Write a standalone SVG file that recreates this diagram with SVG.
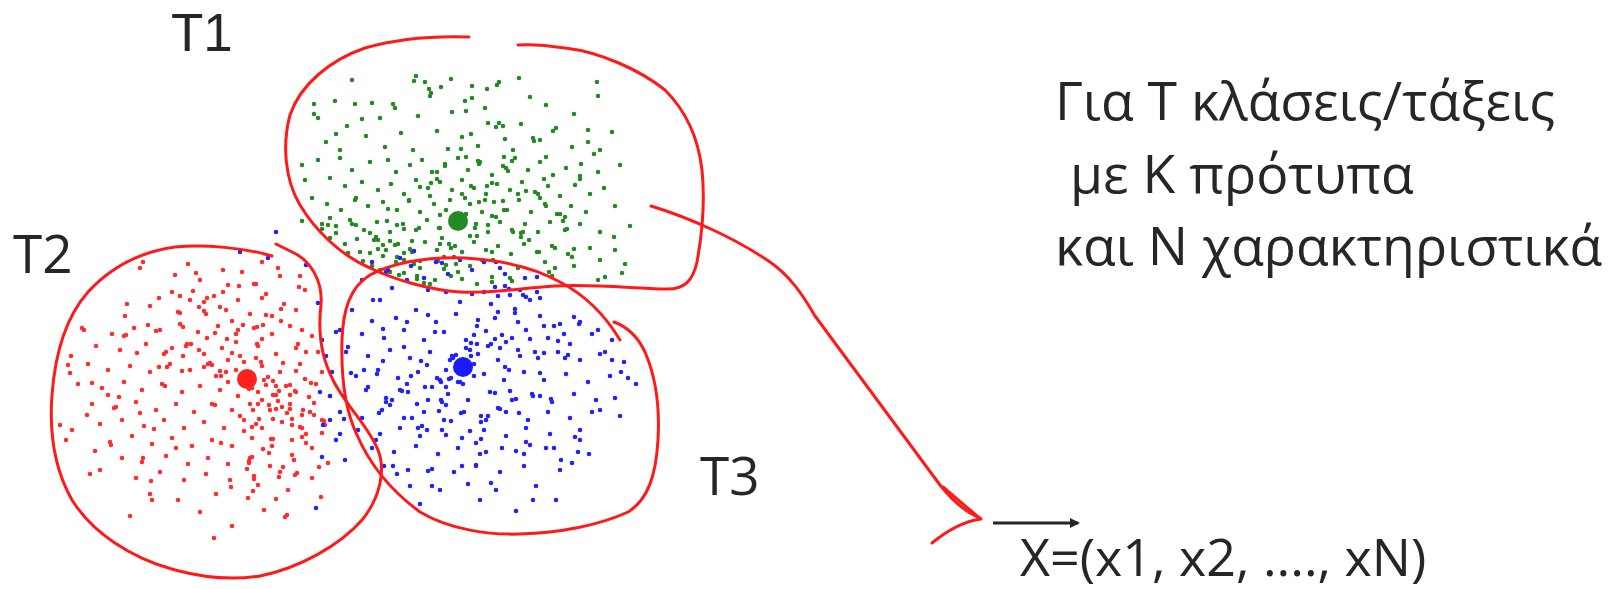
<svg xmlns="http://www.w3.org/2000/svg" width="1615" height="589" viewBox="0 0 1615 589">
<style>
.lbl{font-family:"Open Sans","Noto Sans","Liberation Sans",sans-serif;fill:#262626}
.t{font-size:53px}
.t1{font-family:"Liberation Sans","Open Sans",sans-serif}
.g{font-size:53.5px}
.outline{fill:none;stroke:#ff1a1a;stroke-width:3;stroke-linecap:round;stroke-linejoin:round}
.dots{fill:none;stroke-width:4.6;stroke-linecap:round}
</style>
<defs>
<marker id="ah" markerWidth="10" markerHeight="10" refX="8" refY="5" orient="auto" markerUnits="userSpaceOnUse" viewBox="0 0 10 10"><path d="M0,0 L10,5 L0,10 Z" fill="#262626"/></marker>
</defs>
<rect width="1615" height="589" fill="#ffffff"/>

<g id="cluster-T1">
<path class="dots" stroke="#258a25" d="M478,161h0M376,237h0M512,281h0M431,93h0M567,229h0M397,257h0M465,198h0M330,238h0M533,138h0M417,276h0M492,183h0M356,225h0M594,154h0M444,269h0M519,78h0M410,249h0M546,206h0M336,233h0M458,272h0M499,123h0M390,241h0M580,176h0M438,261h0M485,108h0M302,221h0M526,191h0M424,283h0M472,86h0M370,253h0M560,214h0M404,273h0M506,168h0M451,79h0M614,237h0M380,270h0M478,146h0M417,279h0M540,198h0M383,245h0M512,161h0M444,257h0M553,131h0M322,229h0M492,277h0M431,183h0M465,101h0M574,249h0M397,225h0M499,82h0M363,261h0M477,236h0M399,275h0M503,126h0M440,244h0M544,179h0M414,264h0M466,111h0M352,224h0M518,194h0M430,284h0M487,89h0M383,256h0M565,217h0M451,276h0M508,171h0M425,82h0M529,240h0M372,266h0M461,149h0M492,282h0M409,201h0M555,248h0M445,164h0M482,260h0M336,134h0M513,232h0M435,280h0M471,186h0M393,104h0M539,252h0M419,228h0M497,85h0M456,264h0M581,164h0M378,240h0M477,284h0M430,96h0M523,232h0M404,260h0M503,201h0M451,248h0M534,141h0M357,239h0M487,186h0M440,228h0M466,157h0M549,272h0M414,81h0M492,252h0M388,209h0M479,164h0M352,80h0M521,233h0M420,261h0M588,142h0M390,272h0M462,194h0M330,218h0M546,157h0M404,253h0M496,127h0M328,225h0M622,273h0M437,179h0M530,97h0M395,245h0M563,221h0M318,118h0M454,257h0M504,157h0M370,233h0M605,277h0M429,89h0M488,225h0M348,253h0M538,194h0M412,241h0M471,134h0M355,200h0M580,179h0M387,221h0M513,150h0M446,265h0M598,96h0M305,180h0M479,202h0M404,229h0M555,268h0M362,119h0M521,237h0M437,172h0M572,257h0M314,104h0M496,217h0M420,187h0M462,279h0M597,82h0M378,249h0M504,210h0M340,150h0
M416,76h0M441,87h0M335,101h0M355,104h0M372,103h0M395,108h0M472,98h0M546,105h0M574,114h0M314,114h0M380,118h0M418,116h0M452,112h0M488,123h0M521,124h0M556,128h0M588,130h0M612,132h0M347,126h0M366,136h0M401,133h0M437,131h0M462,137h0M505,139h0M540,140h0M572,147h0M600,150h0M326,142h0M385,147h0M413,150h0M448,149h0M302,165h0M318,160h0M340,158h0M352,170h0M370,162h0M388,160h0M396,172h0M410,165h0M422,160h0M432,172h0M445,166h0M458,158h0M468,170h0M480,162h0M492,175h0M503,166h0M515,158h0M528,170h0M540,162h0M553,175h0M566,168h0M598,172h0M620,165h0M330,178h0M345,186h0M362,182h0M378,190h0M391,184h0M404,194h0M416,180h0M428,188h0M440,182h0M452,190h0M462,180h0M474,188h0M486,194h0M497,184h0M510,190h0M522,182h0M535,192h0M548,186h0M560,196h0M575,185h0M590,194h0M604,188h0M312,198h0M327,204h0M341,210h0M356,198h0M368,206h0M383,202h0M397,210h0M409,200h0M420,212h0M434,204h0M446,210h0M470,204h0M482,212h0M494,202h0M507,210h0M519,200h0M531,212h0M545,204h0M557,214h0M571,206h0M586,212h0M615,206h0M322,224h0M336,226h0M350,220h0M364,230h0M377,222h0M390,232h0M403,224h0M416,230h0M427,220h0M439,228h0M476,224h0M488,232h0M500,222h0M512,230h0M525,224h0M538,232h0M550,222h0M565,230h0M580,224h0M600,232h0M630,226h0M345,244h0M360,252h0M374,240h0M386,250h0M398,244h0M412,252h0M425,242h0M437,250h0M449,244h0M462,252h0M474,242h0M486,250h0M498,246h0M511,254h0M524,244h0M537,252h0M552,246h0M568,254h0M590,248h0M615,250h0M396,262h0M420,268h0M470,266h0M493,260h0M518,268h0M545,262h0M574,266h0M600,260h0M625,264h0M510,278h0M552,276h0M598,280h0M450,200h0M466,214h0M442,238h0M470,236h0M455,246h0M430,196h0M485,200h0M440,215h0M475,228h0M492,216h0"/>
<circle cx="458" cy="221" r="10" fill="#258a25"/>
</g>

<g id="cluster-T2">
<path class="dots" stroke="#ff2d2d" d="M183,327h0M266,385h0M300,276h0M111,445h0M257,344h0M290,409h0M223,292h0M276,499h0M159,367h0M322,433h0M207,338h0M252,457h0M175,275h0M305,379h0M87,415h0M281,321h0M231,487h0M261,362h0M314,403h0M143,262h0M271,439h0M199,350h0M295,391h0M127,304h0M247,469h0M215,333h0M324,421h0M70,373h0M285,517h0M239,286h0M309,397h0M191,344h0M95,451h0M266,315h0M300,427h0M167,367h0M328,463h0M223,270h0M276,409h0M183,356h0M290,385h0M151,481h0M257,327h0M314,415h0M207,298h0M119,397h0M281,309h0M252,427h0M71,356h0M295,475h0M204,367h0M262,400h0M299,287h0M154,429h0M256,358h0M279,391h0M232,321h0M269,453h0M187,344h0M302,415h0M221,376h0M253,491h0M199,307h0M290,395h0M137,353h0M273,439h0M238,330h0M259,419h0M296,371h0M176,448h0M266,294h0M215,405h0M283,363h0M165,386h0M249,463h0M227,339h0M303,410h0M125,316h0M276,395h0M243,325h0M292,419h0M210,363h0M143,458h0M262,339h0M286,386h0M193,291h0M306,434h0M232,353h0M269,405h0M204,311h0M279,477h0M182,371h0M256,424h0M296,348h0M221,443h0M159,298h0M273,381h0M253,410h0M126,335h0M283,467h0M292,425h0M68,365h0M249,461h0M278,268h0M116,407h0M204,354h0M311,383h0M254,479h0M148,325h0M287,413h0M180,296h0M273,395h0M220,307h0M325,425h0M164,354h0M297,473h0M263,325h0M92,383h0M188,264h0M306,443h0M236,342h0M282,407h0M72,430h0M321,497h0M212,365h0M244,431h0M124,336h0M292,455h0M196,273h0M268,377h0M140,413h0M302,330h0M258,485h0M228,360h0M278,401h0M84,330h0M302,437h0M172,348h0M249,389h0M204,302h0M319,467h0M156,331h0M273,419h0M220,371h0M287,515h0M254,284h0M108,395h0M306,352h0M263,449h0M180,313h0M130,516h0M214,538h0M200,512h0M152,500h0M100,470h0M60,425h0
M140,268h0M262,262h0M242,272h0M200,280h0M228,285h0M256,284h0M280,276h0M305,290h0M172,292h0M190,300h0M214,296h0M238,300h0M262,298h0M284,304h0M150,306h0M178,312h0M206,314h0M226,310h0M250,314h0M272,316h0M296,310h0M82,328h0M112,334h0M134,328h0M160,330h0M180,324h0M198,332h0M218,326h0M236,334h0M254,328h0M272,334h0M290,326h0M312,336h0M96,346h0M120,350h0M146,344h0M166,352h0M186,346h0M204,354h0M222,348h0M240,356h0M258,346h0M276,354h0M298,344h0M318,352h0M88,364h0M108,370h0M130,366h0M150,372h0M170,364h0M190,370h0M208,364h0M226,372h0M262,366h0M280,372h0M300,364h0M322,372h0M78,384h0M102,388h0M124,382h0M142,390h0M162,384h0M182,392h0M200,386h0M220,390h0M238,396h0M258,392h0M276,386h0M296,392h0M316,384h0M330,396h0M92,404h0M114,408h0M136,402h0M156,410h0M176,404h0M194,412h0M212,404h0M232,410h0M250,404h0M270,410h0M290,404h0M310,412h0M100,424h0M122,420h0M144,426h0M164,420h0M184,428h0M204,422h0M224,428h0M244,420h0M262,428h0M282,422h0M302,428h0M322,420h0M66,440h0M110,442h0M132,436h0M152,444h0M172,438h0M192,446h0M212,440h0M232,446h0M252,438h0M272,446h0M292,440h0M312,448h0M122,458h0M142,462h0M166,456h0M188,464h0M208,458h0M228,464h0M250,458h0M270,466h0M294,460h0M90,474h0M136,478h0M160,472h0M184,480h0M206,474h0M230,480h0M254,476h0M280,472h0M312,478h0M150,494h0M178,500h0M216,494h0M248,498h0M288,490h0M264,510h0M232,526h0M236,370h0M252,388h0M228,382h0M244,362h0M264,380h0M216,376h0M240,416h0M258,404h0"/>
<circle cx="247" cy="379" r="10" fill="#ff2020"/>
</g>

<g id="cluster-T3">
<path class="dots" stroke="#2222ff" d="M407,280h0M491,483h0M568,355h0M344,419h0M477,326h0M526,442h0M442,263h0M505,367h0M386,402h0M605,352h0M428,471h0M470,350h0M400,390h0M537,292h0M323,425h0M512,338h0M449,379h0M484,292h0M589,454h0M372,321h0M498,408h0M421,361h0M533,500h0M362,280h0M463,384h0M435,332h0M575,437h0M318,303h0M519,413h0M456,355h0M554,448h0M414,251h0M330,396h0M491,344h0M540,373h0M393,466h0M598,330h0M442,402h0M505,286h0M407,384h0M526,297h0M379,413h0M477,344h0M561,460h0M428,315h0M351,373h0M500,268h0M470,431h0M336,332h0M533,396h0M427,430h0M486,331h0M540,396h0M383,361h0M476,465h0M510,295h0M451,378h0M495,339h0M412,418h0M574,317h0M441,400h0M471,356h0M422,426h0M525,278h0M368,387h0M500,348h0M456,370h0M481,439h0M554,326h0M402,391h0M491,304h0M437,378h0M515,313h0M392,400h0M466,348h0M446,435h0M544,326h0M364,370h0M505,274h0M461,413h0M530,339h0M432,387h0M373,300h0M486,452h0M520,356h0M417,404h0M564,334h0M451,421h0M495,287h0M427,365h0M510,391h0M407,322h0M476,443h0M535,352h0M441,382h0M388,270h0M500,409h0M471,343h0M377,374h0M515,309h0M509,289h0M390,405h0M621,372h0M432,469h0M474,376h0M404,347h0M551,399h0M268,258h0M516,451h0M453,358h0M488,416h0M580,322h0M376,440h0M502,335h0M425,387h0M537,277h0M316,508h0M467,364h0M439,411h0M579,324h0M322,457h0M523,295h0M460,382h0M558,341h0M418,428h0M240,252h0M495,393h0M544,353h0M397,474h0M615,398h0M446,405h0M509,370h0M411,266h0M530,445h0M383,329h0M481,422h0M565,358h0M432,486h0M306,265h0M516,399h0M474,335h0M340,434h0M484,262h0M411,376h0M495,318h0M572,463h0M348,347h0M481,416h0M530,300h0M446,387h0M628,378h0M580,440h0M556,500h0M276,232h0M600,410h0M612,360h0
M372,262h0M386,272h0M400,258h0M424,278h0M436,262h0M448,274h0M460,260h0M472,270h0M496,262h0M428,290h0M392,288h0M520,290h0M446,292h0M472,294h0M498,296h0M380,300h0M540,298h0M460,302h0M352,310h0M396,318h0M416,310h0M436,322h0M456,314h0M478,320h0M498,312h0M518,322h0M540,316h0M560,324h0M340,330h0M362,334h0M384,338h0M404,330h0M424,340h0M444,332h0M466,340h0M506,342h0M526,330h0M548,338h0M570,344h0M592,334h0M612,340h0M346,352h0M368,356h0M390,350h0M410,358h0M430,352h0M450,360h0M478,354h0M498,360h0M518,350h0M538,358h0M558,352h0M580,360h0M600,354h0M624,362h0M332,372h0M356,376h0M378,370h0M398,378h0M418,372h0M440,380h0M484,374h0M504,380h0M524,372h0M544,380h0M566,374h0M588,382h0M610,376h0M636,384h0M320,392h0M344,396h0M366,390h0M386,398h0M408,392h0M428,400h0M448,394h0M468,400h0M490,392h0M512,400h0M532,394h0M552,402h0M574,394h0M596,400h0M340,412h0M362,418h0M382,410h0M404,418h0M424,412h0M444,420h0M464,412h0M486,420h0M506,412h0M528,420h0M548,412h0M570,418h0M592,412h0M620,416h0M358,430h0M380,434h0M400,428h0M420,436h0M442,430h0M462,438h0M484,430h0M506,436h0M526,428h0M550,434h0M580,430h0M372,448h0M394,452h0M416,446h0M438,454h0M458,448h0M480,454h0M502,448h0M524,454h0M546,448h0M578,452h0M384,466h0M408,470h0M454,472h0M476,466h0M500,472h0M524,466h0M560,470h0M410,486h0M440,490h0M468,484h0M496,490h0M536,486h0M420,504h0M480,500h0M516,511h0M462,466h0M452,356h0M474,364h0M458,382h0M470,350h0M446,370h0M488,346h0M322,340h0M326,356h0M330,420h0M336,440h0M345,460h0"/>
<circle cx="463" cy="367" r="10" fill="#1a1aff"/>
</g>

<g id="outlines">
<path class="outline" d="M469,37 C440,36 400,38 365,48 C330,60 300,85 290,115 C282,145 285,180 300,205 C315,230 340,255 370,268 C395,280 430,290 460,292 C490,294 520,288 555,286 C590,284 630,288 665,289 C685,290 693,280 697,262 C702,235 705,200 702,170 C698,135 685,110 665,90 C640,70 600,52 565,48 C545,45 530,44 518,45"/>
<path class="outline" d="M272,256 C245,248 205,244 175,247 C140,252 110,268 88,292 C65,318 55,355 52,395 C49,435 55,470 72,500 C92,532 130,558 175,570 C205,578 235,580 260,576 C300,568 340,545 362,520 C380,498 386,470 378,450 C368,425 345,405 333,380 C320,355 318,330 321,305 C323,280 310,262 296,254 C288,250 282,247 276,244"/>
<path class="outline" d="M620,340 C605,315 585,295 560,282 C535,268 500,260 465,258 C430,257 395,262 370,275 C350,287 343,310 342,340 C341,375 345,410 357,435 C370,465 390,490 420,512 C450,530 490,535 520,534 C560,533 600,525 628,512 C648,500 656,475 658,440 C660,405 655,375 645,352 C637,335 625,326 614,322"/>
</g>

<g id="labels">
<text class="lbl t t1" x="171" y="51">T1</text>
<text class="lbl t" x="13" y="273">T2</text>
<text class="lbl t" x="700" y="495">T3</text>
<text class="lbl g" x="1055" y="120">Για T κλάσεις/τάξεις</text>
<text class="lbl g" x="1070" y="193">με K πρότυπα</text>
<text class="lbl g" x="1055" y="265">και N χαρακτηριστικά</text>
<text class="lbl" font-size="52" x="1020" y="576">X=(x1, x2, ...., xN)</text>
</g>

<g id="connectors">
<path class="outline" d="M651,206 C690,218 735,238 770,262 C790,276 803,295 815,316 L940,485 C952,500 965,512 980,518"/>
<path class="outline" d="M981,519 C965,521 948,530 932,543"/>
<path class="outline" d="M943,487 L977,516"/>
<line x1="993" y1="523" x2="1078" y2="523" stroke="#262626" stroke-width="3" marker-end="url(#ah)"/>
</g>
</svg>
